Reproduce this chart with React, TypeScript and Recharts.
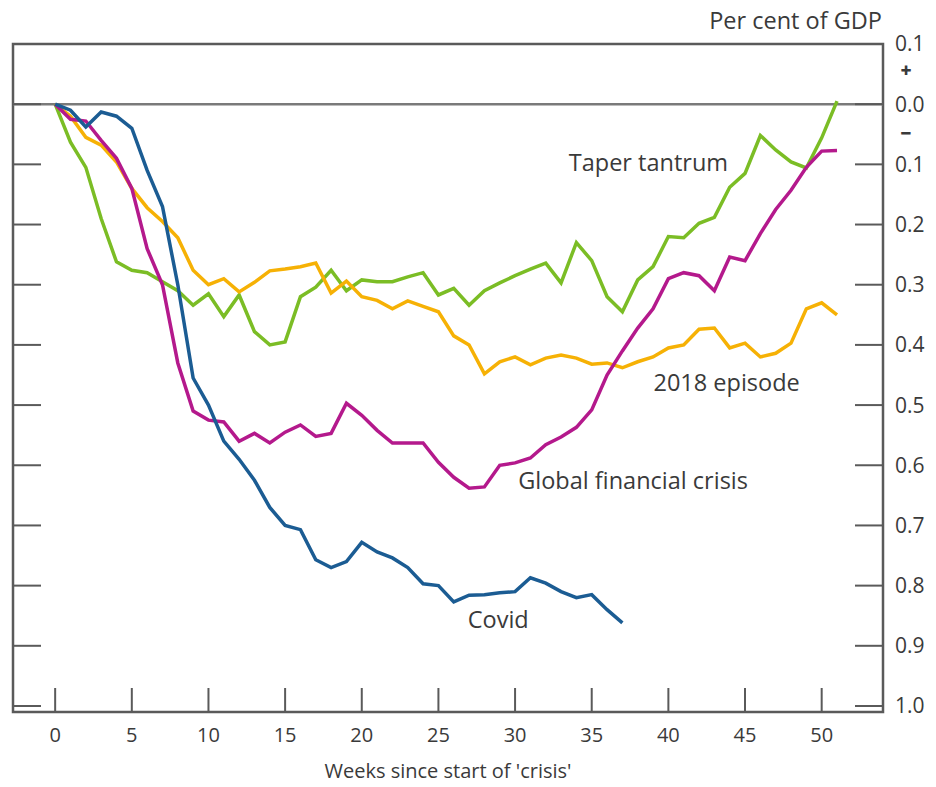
import React from 'react';
import { LineChart, Line, XAxis, YAxis, ReferenceLine, ReferenceArea, ReferenceDot } from 'recharts';

const weeks = [0,1,2,3,4,5,6,7,8,9,10,11,12,13,14,15,16,17,18,19,20,21,22,23,24,25,26,27,28,29,30,31,32,33,34,35,36,37,38,39,40,41,42,43,44,45,46,47,48,49,50,51];

const covid = [0, -0.01, -0.038, -0.013, -0.02, -0.04, -0.11, -0.17, -0.3, -0.455, -0.5, -0.56, -0.59, -0.625, -0.67, -0.7, -0.707, -0.757, -0.77, -0.76, -0.728, -0.744, -0.754, -0.77, -0.797, -0.8, -0.827, -0.816, -0.815, -0.812, -0.81, -0.787, -0.796, -0.81, -0.82, -0.815, -0.84, -0.862];

const gfc = [0, -0.025, -0.028, -0.06, -0.09, -0.14, -0.24, -0.3, -0.43, -0.51, -0.525, -0.528, -0.56, -0.547, -0.563, -0.545, -0.533, -0.552, -0.547, -0.497, -0.517, -0.542, -0.563, -0.563, -0.563, -0.595, -0.62, -0.638, -0.636, -0.6, -0.596, -0.588, -0.566, -0.553, -0.537, -0.508, -0.45, -0.41, -0.372, -0.34, -0.29, -0.28, -0.285, -0.31, -0.254, -0.26, -0.215, -0.175, -0.143, -0.105, -0.078, -0.077];

const taper = [0, -0.063, -0.105, -0.19, -0.262, -0.276, -0.28, -0.295, -0.31, -0.334, -0.315, -0.353, -0.317, -0.378, -0.4, -0.395, -0.32, -0.304, -0.276, -0.31, -0.292, -0.295, -0.295, -0.287, -0.28, -0.317, -0.306, -0.334, -0.31, -0.297, -0.285, -0.274, -0.264, -0.297, -0.23, -0.26, -0.32, -0.345, -0.292, -0.27, -0.22, -0.222, -0.198, -0.188, -0.138, -0.115, -0.052, -0.076, -0.096, -0.106, -0.056, 0.005];

const episode2018 = [0, -0.02, -0.055, -0.068, -0.096, -0.14, -0.172, -0.195, -0.222, -0.276, -0.3, -0.29, -0.312, -0.296, -0.277, -0.274, -0.27, -0.264, -0.314, -0.294, -0.32, -0.326, -0.34, -0.327, -0.336, -0.345, -0.385, -0.4, -0.448, -0.428, -0.42, -0.433, -0.422, -0.417, -0.422, -0.432, -0.43, -0.438, -0.428, -0.42, -0.405, -0.4, -0.374, -0.372, -0.405, -0.397, -0.42, -0.414, -0.397, -0.34, -0.33, -0.35];

const xTicks = [0, 5, 10, 15, 20, 25, 30, 35, 40, 45, 50];
const yTicks = [0.1, 0, -0.1, -0.2, -0.3, -0.4, -0.5, -0.6, -0.7, -0.8, -0.9, -1.0];

const seriesLabels = [
  { text: 'Taper tantrum', week: 38.7, value: -0.098 },
  { text: '2018 episode', week: 43.8, value: -0.462 },
  { text: 'Global financial crisis', week: 37.7, value: -0.625 },
  { text: 'Covid', week: 28.9, value: -0.857 },
];

const data = weeks.map((w, i) => ({
  week: w,
  covid: i < covid.length ? covid[i] : null,
  gfc: gfc[i],
  taper: taper[i],
  e2018: episode2018[i],
}));

const FONT = '"Open Sans", "Noto Sans", sans-serif';
const TEXT = '#3a3a3a';
const AX = '#5a5a5a';

export default function App() {
  return (
    <div style={{ position: 'absolute', left: 0, top: 0, width: 936, height: 787, overflow: 'hidden', background: '#fff', fontFamily: FONT }}>
      <LineChart width={936} height={787} data={data} margin={{ top: 44, right: 0, bottom: 0, left: 0 }}>
        <XAxis
          type="number"
          dataKey="week"
          domain={[-2.75, 54]}
          ticks={xTicks}
          allowDataOverflow
          height={75}
          axisLine={false}
          tickSize={-24}
          tickMargin={40}
          tickLine={{ stroke: AX, strokeWidth: 2 }}
          tick={{ fill: TEXT, fontSize: 20, fontFamily: FONT }}
          label={{ value: "Weeks since start of 'crisis'", position: 'insideBottom', offset: 9, fill: TEXT, fontSize: 20, fontFamily: FONT }}
        />
        <YAxis
          yAxisId="l"
          orientation="left"
          type="number"
          domain={[-1.01, 0.1]}
          ticks={yTicks}
          allowDataOverflow
          width={13}
          axisLine={false}
          tickSize={-28}
          tickLine={{ stroke: AX, strokeWidth: 2 }}
          tickFormatter={() => ''}
        />
        <YAxis
          yAxisId="r"
          orientation="right"
          type="number"
          domain={[-1.01, 0.1]}
          ticks={yTicks}
          allowDataOverflow
          width={53}
          axisLine={false}
          tickSize={-28}
          tickMargin={40}
          tickLine={{ stroke: AX, strokeWidth: 2 }}
          tick={{ fill: TEXT, fontSize: 21, fontFamily: FONT }}
          tickFormatter={(v: number) => Math.abs(v).toFixed(1)}
        />
        <ReferenceArea yAxisId="r" x1={-2.75} x2={54} y1={-1.01} y2={0.1} fill="none" stroke={AX} strokeWidth={2.5} />
        <ReferenceLine yAxisId="r" y={0} stroke="#7a7a7a" strokeWidth={2.5} />
        <Line yAxisId="r" dataKey="taper" stroke="#7bbd25" strokeWidth={3.5} dot={false} isAnimationActive={false} />
        <Line yAxisId="r" dataKey="e2018" stroke="#f6b105" strokeWidth={3.5} dot={false} isAnimationActive={false} />
        <Line yAxisId="r" dataKey="gfc" stroke="#b4198c" strokeWidth={3.5} dot={false} isAnimationActive={false} />
        <Line yAxisId="r" dataKey="covid" stroke="#1b5c93" strokeWidth={3.5} dot={false} isAnimationActive={false} connectNulls={false} />
        {seriesLabels.map((s) => (
          <ReferenceDot
            key={s.text}
            yAxisId="r"
            x={s.week}
            y={s.value}
            r={1}
            fill="none"
            stroke="none"
            label={{ value: s.text, position: 'center', fill: TEXT, fontSize: 23.5, fontFamily: FONT }}
          />
        ))}
      </LineChart>
      <div style={{ position: 'absolute', right: 54, top: 7, fontSize: 23.5, lineHeight: '26px', color: TEXT, whiteSpace: 'nowrap' }}>Per cent of GDP</div>
      <div style={{ position: 'absolute', left: 896, top: 62, width: 20, textAlign: 'center', fontSize: 19, lineHeight: '17px', fontWeight: 800, color: TEXT }}>+</div>
      <div style={{ position: 'absolute', left: 896, top: 125, width: 20, textAlign: 'center', fontSize: 19, lineHeight: '17px', fontWeight: 800, color: TEXT }}>−</div>
    </div>
  );
}
